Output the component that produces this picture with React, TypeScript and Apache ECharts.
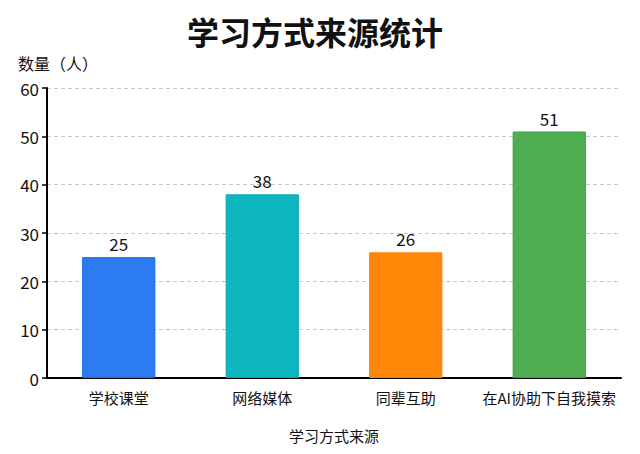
import React, { useEffect, useRef } from 'react'
import * as echarts from 'echarts'

const categories = ['学校课堂', '网络媒体', '同辈互助', '在AI协助下自我摸索']
const counts = [25, 38, 26, 51]
const barColors = ['#2D7BF0', '#0DB6BF', '#FF8707', '#4FAD52']
const borderColors = ['#1668EE', '#0AA8B0', '#FA7F00', '#3A9E3E']

const FONT = '"Noto Sans CJK SC", "Noto Sans", sans-serif'

export default function App() {
  const chartRef: any = useRef()

  useEffect(() => {
    document.body.style.margin = '0'
    const myChart = echarts.init(chartRef.current, null, { renderer: 'svg' })
    const option = {
      animation: false,
      backgroundColor: '#FFFFFF',
      title: {
        text: '学习方式来源统计',
        left: 310,
        top: 10,
        textAlign: 'center',
        textStyle: { fontFamily: FONT, fontSize: 32, fontWeight: 'bold', color: '#111111' }
      },
      graphic: [
        {
          type: 'text',
          left: 18,
          top: 55,
          style: { text: '数量（人）', fontFamily: FONT, fontSize: 16, fill: '#111111' }
        }
      ],
      grid: { top: 88, bottom: 76, left: 47, right: 19 },
      xAxis: {
        type: 'category',
        data: categories,
        name: '学习方式来源',
        nameLocation: 'middle',
        nameGap: 50,
        nameTextStyle: { fontFamily: FONT, fontSize: 15, color: '#111111' },
        axisLine: { lineStyle: { color: '#000000', width: 2 } },
        axisTick: { show: false },
        axisLabel: { interval: 0, fontFamily: FONT, fontSize: 15, color: '#111111', margin: 12 }
      },
      yAxis: {
        type: 'value',
        min: 0,
        max: 60,
        interval: 10,
        axisLine: { show: true, lineStyle: { color: '#000000', width: 2 } },
        axisTick: { show: true, length: 5, lineStyle: { color: '#000000', width: 1.5 } },
        axisLabel: { fontFamily: FONT, fontSize: 17, color: '#111111', margin: 8 },
        splitLine: { show: true, lineStyle: { color: '#C8C8C8', type: [4, 3], width: 1 } }
      },
      series: [
        {
          type: 'bar',
          barWidth: '51%',
          data: counts.map((v, i) => ({
            value: v,
            itemStyle: { color: barColors[i], borderColor: borderColors[i], borderWidth: 1 }
          })),
          label: {
            show: true,
            position: 'top',
            distance: 5,
            fontFamily: FONT,
            fontSize: 17,
            color: '#111111'
          }
        }
      ]
    }
    myChart.setOption(option)
    return () => {
      myChart.dispose()
    }
  }, [])

  return <div style={{ width: '640px', height: '454px' }} ref={chartRef} />
}
